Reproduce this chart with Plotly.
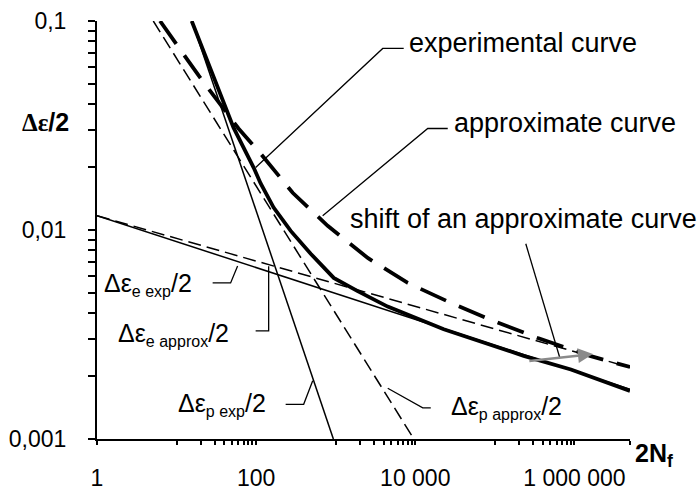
import math
import plotly.graph_objects as go

# ---------------- data ----------------
exp_x = [15.5, 52, 93, 114, 166, 272, 485, 945, 1890, 4500, 15700, 22800, 231000, 904000, 5000000]
exp_y = [0.1, 0.0309, 0.0199, 0.0167, 0.0128, 0.0099, 0.0077, 0.0059, 0.0051, 0.0043, 0.00355, 0.00335, 0.0025, 0.00215, 0.0017]

approx_x = [6.2, 18.9, 60, 114, 288, 793, 2530, 8050, 28000, 97000, 347000, 1610000, 5000000]
approx_y = [0.1, 0.0549, 0.0306, 0.0232, 0.01507, 0.01047, 0.00735, 0.00558, 0.00448, 0.00367, 0.00304, 0.00249, 0.00221]

plastic_exp_x = [15.6, 935]
plastic_exp_y = [0.1, 0.001]
plastic_approx_x = [5.1, 9600]
plastic_approx_y = [0.1, 0.001]
elastic_exp_x = [1, 5000000]
elastic_exp_y = [0.0117, 0.00173]
elastic_approx_x = [1, 5000000]
elastic_approx_y = [0.0117, 0.0022]

# shift arrow (from / to)
shift_from = (260000, 0.00236)
shift_to = (1710000, 0.00255)

# leader lines of the labels
leader_exp = ([98.6, 3900, 7160], [0.0199, 0.0739, 0.0739])
leader_approx = ([686, 14350, 25600], [0.0117, 0.0306, 0.0306])
leader_shift = ([245000, 657000], [0.00859, 0.00244])
leader_ee_exp = ([28.4, 47.8, 58.5], [0.00558, 0.00558, 0.00673])
leader_ee_approx = ([98.6, 143.7, 143.7], [0.00329, 0.00329, 0.0067])
leader_ep_exp = ([235, 396, 514], [0.001465, 0.001465, 0.0019])
leader_ep_approx = ([15670, 12420, 4510], [0.00141, 0.00141, 0.00175])

# axis ticks
x_major = [1, 10, 100, 1000, 10000, 100000, 1000000, 5000000]
x_minor = [k * d for d in (10, 1000, 100000) for k in range(2, 10)]
x_labels = {1: "1", 100: "100", 10000: "10 000", 1000000: "1 000 000"}
y_ticks = [k * d for d in (0.001, 0.01) for k in range(1, 10)] + [0.1]
y_labels = {0.001: "0,001", 0.01: "0,01", 0.1: "0,1"}

# ---------------- figure ----------------
fig = go.Figure()

def line(x, y, width, dash="solid", color="black"):
    fig.add_trace(go.Scatter(x=x, y=y, mode="lines",
                             line=dict(color=color, width=width, dash=dash),
                             showlegend=False, hoverinfo="skip"))

for lx, ly in [leader_exp, leader_approx, leader_shift, leader_ee_exp,
               leader_ee_approx, leader_ep_exp, leader_ep_approx]:
    line(lx, ly, 1.3)

line(plastic_exp_x, plastic_exp_y, 1.5)
line(elastic_exp_x, elastic_exp_y, 1.5)
line(plastic_approx_x, plastic_approx_y, 1.5, dash="13px,6px")
line(elastic_approx_x, elastic_approx_y, 1.5, dash="13px,6px")
line(approx_x, approx_y, 3.8, dash="28px,14px")
line(exp_x, exp_y, 3.8)

xt = sorted(x_major + x_minor)
yt = sorted(y_ticks)
fig.update_xaxes(type="log", range=[0, math.log10(5000000)], automargin=False,
                 tickvals=xt, ticktext=[x_labels.get(v, "") for v in xt],
                 ticks="outside", ticklen=4, tickwidth=1.5, tickcolor="black",
                 showline=True, linecolor="black", linewidth=2,
                 showgrid=False, zeroline=False, ticklabelstandoff=13,
                 tickfont=dict(family="Liberation Sans, Arial", size=23, color="black"))
fig.update_yaxes(type="log", range=[-3, -1], automargin=False,
                 tickvals=yt, ticktext=[y_labels.get(round(v, 6), "") for v in yt],
                 ticks="outside", ticklen=7, tickwidth=1.5, tickcolor="black",
                 showline=True, linecolor="black", linewidth=2,
                 showgrid=False, zeroline=False, ticklabelstandoff=17,
                 tickfont=dict(family="Liberation Sans, Arial", size=23, color="black"))

F = "Liberation Sans, Arial"
SER = "Liberation Serif"
def txt(x, y, s, size=27, xref="x", yref="y", xanchor="left"):
    fig.add_annotation(x=x, y=y, xref=xref, yref=yref, text=s, showarrow=False,
                       xanchor=xanchor, yanchor="middle",
                       font=dict(family=F, size=size, color="black"))

txt(3.89, -1.107, "experimental curve")
txt(4.456, -1.490, "approximate curve")
txt(3.16, -1.945, "shift of an approximate curve")

def de(sub):
    return f"Δε<sub><span style='font-size:16px'>{sub}</span></sub>/2"

txt(0.062, -2.262, de("e exp"), size=25)
txt(0.238, -2.502, de("e approx"), size=25)
txt(0.992, -2.837, de("p exp"), size=25)
txt(4.423, -2.847, de("p approx"), size=25)

txt(-0.0957, 0.7576, f"<span style='font-family:{SER}'><b>Δε</b></span><b>/2</b>", size=25,
    xref="paper", yref="paper", xanchor="center")
txt(1.0056, -0.039, "<b>2N<sub>f</sub></b>", size=25, xref="paper", yref="paper")

fig.add_annotation(x=math.log10(shift_to[0]), y=math.log10(shift_to[1]),
                   ax=math.log10(shift_from[0]), ay=math.log10(shift_from[1]),
                   xref="x", yref="y", axref="x", ayref="y", text="",
                   showarrow=True, arrowhead=2, arrowsize=1.2, arrowwidth=2.5,
                   arrowcolor="#8a8a8a")

fig.update_layout(width=698, height=490, margin=dict(l=97, r=68, t=21, b=51),
                  paper_bgcolor="white", plot_bgcolor="white", showlegend=False)

fig.write_html("out.html")
